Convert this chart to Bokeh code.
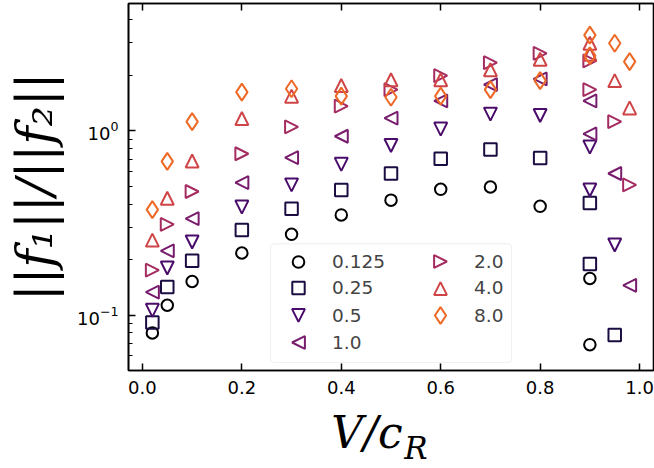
from bokeh.plotting import figure
from bokeh.models import (Range1d, LinearAxis, FixedTicker, Legend, LegendItem,
                          NumeralTickFormatter, CustomJSTickFormatter,
                          BoxAnnotation, CustomJS)
from bokeh.embed import file_html
from bokeh.resources import INLINE

# ---------------- data ----------------
series_labels = ["0.125", "0.25", "0.5", "1.0", "2.0", "4.0", "8.0"]

x_0125 = [0.02, 0.05, 0.1, 0.2, 0.3, 0.4, 0.5, 0.6, 0.7, 0.8, 0.9, 0.9]
y_0125 = [0.080, 0.113, 0.152, 0.217, 0.274, 0.349, 0.420, 0.481, 0.495, 0.389, 0.158, 0.069]

x_025 = [0.02, 0.05, 0.1, 0.2, 0.3, 0.4, 0.5, 0.6, 0.7, 0.8, 0.9, 0.9, 0.95]
y_025 = [0.091, 0.142, 0.197, 0.289, 0.377, 0.477, 0.586, 0.705, 0.791, 0.711, 0.405, 0.189, 0.078]

x_05 = [0.02, 0.05, 0.1, 0.2, 0.3, 0.4, 0.5, 0.6, 0.7, 0.8, 0.9, 0.9, 0.95]
y_05 = [0.106, 0.180, 0.249, 0.385, 0.508, 0.657, 0.831, 1.02, 1.23, 1.21, 0.815, 0.477, 0.240]

x_10 = [0.02, 0.05, 0.1, 0.2, 0.3, 0.4, 0.5, 0.6, 0.7, 0.8, 0.9, 0.9, 0.95, 0.98]
y_10 = [0.133, 0.223, 0.333, 0.523, 0.714, 0.933, 1.17, 1.45, 1.78, 1.91, 1.45, 0.96, 0.586, 0.145]

x_20 = [0.02, 0.05, 0.1, 0.2, 0.3, 0.4, 0.5, 0.6, 0.7, 0.8, 0.9, 0.9, 0.95, 0.98]
y_20 = [0.175, 0.310, 0.468, 0.750, 1.05, 1.36, 1.67, 1.99, 2.34, 2.63, 2.39, 1.67, 1.12, 0.508]

x_40 = [0.02, 0.05, 0.1, 0.2, 0.3, 0.4, 0.5, 0.6, 0.7, 0.8, 0.9, 0.9, 0.95, 0.98]
y_40 = [0.255, 0.430, 0.685, 1.165, 1.54, 1.76, 1.89, 1.89, 2.14, 2.44, 2.98, 2.60, 1.87, 1.33]

x_80 = [0.02, 0.05, 0.1, 0.2, 0.3, 0.4, 0.5, 0.6, 0.7, 0.8, 0.9, 0.9, 0.95, 0.98]
y_80 = [0.373, 0.682, 1.12, 1.62, 1.69, 1.54, 1.52, 1.54, 1.67, 1.87, 3.30, 2.55, 2.98, 2.37]

x_ticks = [0.0, 0.2, 0.4, 0.6, 0.8, 1.0]
y_major = [0.1, 1.0]
y_minor = [0.05, 0.06, 0.07, 0.08, 0.09, 0.2, 0.3, 0.4, 0.5, 0.6, 0.7, 0.8, 0.9, 2.0, 3.0, 4.0]

# ---------------- custom triangle markers (matplotlib-like) ----------------
def tri_marker(pts):
    moves = "ctx.moveTo(%s*r, %s*r);" % pts[0] + "".join(
        "ctx.lineTo(%s*r, %s*r);" % pt for pt in pts[1:])
    return CustomJS(code="""
export default (args, obj, {ctx, i, r, visuals}) => {
  ctx.beginPath();
  %s
  ctx.closePath();
  visuals.fill.apply(ctx, i);
  visuals.line.apply(ctx, i);
}
""" % moves)

marker_defs = {
    "@tri_up": tri_marker([(0, -1), (1, 1), (-1, 1)]),
    "@tri_down": tri_marker([(0, 1), (1, -1), (-1, -1)]),
    "@tri_left": tri_marker([(-1, 0), (1, -1), (1, 1)]),
    "@tri_right": tri_marker([(1, 0), (-1, -1), (-1, 1)]),
}

# ---------------- styles ----------------
colors = ["#000004", "#1b0c41", "#4a0c6b", "#781c6d", "#a52c60", "#cf4446", "#ed6925"]
markers = ["circle", "square", "@tri_down", "@tri_left", "@tri_right", "@tri_up", "diamond"]
sizes = [11.5, 12.5, 13, 13, 13, 13, 17]

xs = [x_0125, x_025, x_05, x_10, x_20, x_40, x_80]
ys = [y_0125, y_025, y_05, y_10, y_20, y_40, y_80]

p = figure(width=654, height=468,
           x_range=Range1d(-0.028, 1.028), y_range=Range1d(0.05, 4.9),
           y_axis_type="log", output_backend="svg", toolbar_location=None,
           min_border_left=128, min_border_right=1, min_border_top=3, min_border_bottom=93)
p.xgrid.visible = False
p.ygrid.visible = False
p.outline_line_color = "black"
p.outline_line_width = 1.6

renderers = []
for xv, yv, c, m, s in zip(xs, ys, colors, markers, sizes):
    kw = dict(defs=marker_defs) if m.startswith("@") else {}
    r = p.scatter(xv, yv, marker=m, size=s, fill_color=None,
                  line_color=c, line_width=2, **kw)
    renderers.append(r)

xa = p.xaxis[0]
xa.ticker = FixedTicker(ticks=x_ticks)
xa.formatter = NumeralTickFormatter(format="0.0")
ya = p.yaxis[0]
ya.ticker = FixedTicker(ticks=y_major, minor_ticks=y_minor)
for ax in (xa, ya):
    ax.major_tick_in = 7
    ax.major_tick_out = 0
    ax.minor_tick_in = 4
    ax.minor_tick_out = 0
    ax.major_tick_line_width = 1.5
    ax.minor_tick_line_width = 1.2
    ax.axis_line_width = 1.6
    ax.major_label_text_font = "DejaVu Sans"
    ax.major_label_text_font_size = "18px"
    ax.major_label_text_color = "black"
xa.major_label_standoff = 10
ya.major_label_standoff = 10

ya.axis_label = "||f\u2081||/||f\u2082||"
ya.axis_label_text_font = "DejaVu Serif"
ya.axis_label_text_font_style = "italic"
ya.axis_label_text_font_size = "50px"
ya.axis_label_standoff = 10
ya.axis_label_text_color = "black"

top = LinearAxis(ticker=FixedTicker(ticks=x_ticks), major_tick_in=7, major_tick_out=0,
                 minor_tick_in=0, minor_tick_out=0, major_tick_line_width=1.5,
                 axis_line_width=1.6, major_label_standoff=0,
                 formatter=CustomJSTickFormatter(code="return ''"))
p.add_layout(top, "above")


# x axis label "V/c" with subscript "R": two tick-free label rows below the axis
def label_row(text, at, size, standoff):
    return LinearAxis(ticker=FixedTicker(ticks=[at]),
                      formatter=CustomJSTickFormatter(code="return '%s'" % text),
                      axis_line_color=None, major_tick_line_color=None,
                      minor_tick_line_color=None, major_tick_in=0, major_tick_out=0,
                      minor_tick_in=0, minor_tick_out=0,
                      major_label_standoff=standoff,
                      major_label_text_font="DejaVu Serif",
                      major_label_text_font_style="italic",
                      major_label_text_font_size=size,
                      major_label_text_color="black")


p.add_layout(label_row("V/c", 0.4517, "44px", 10), "below")
p.add_layout(label_row("R", 0.5499, "31px", -31), "below")

# legend frame
p.add_layout(BoxAnnotation(left=142, right=383, top=126.7, bottom=8,
                           left_units="screen", right_units="screen",
                           top_units="screen", bottom_units="screen",
                           fill_color="white", fill_alpha=0.85,
                           line_color="#cccccc", line_width=1.2, border_radius=4,
                           level="annotation"))

# one legend per entry (two columns)
row_y = [266, 292.7, 320, 347.3, 266, 292.7, 320]
col_x = [298, 298, 298, 298, 440, 440, 440]
frame_left, frame_bottom = 128, 375
for i in range(7):
    h = int(round(sizes[i] / 0.4))
    leg = Legend(items=[LegendItem(label=series_labels[i], renderers=[renderers[i]])],
                 location=(col_x[i] - 22 - frame_left, frame_bottom - (row_y[i] + h / 2)),
                 glyph_width=44, glyph_height=h, label_standoff=12,
                 padding=0, margin=0, spacing=0,
                 label_text_font="DejaVu Sans", label_text_font_size="18.5px",
                 border_line_color=None, background_fill_alpha=0)
    p.add_layout(leg)

open("out.html", "w").write(file_html(p, INLINE))
